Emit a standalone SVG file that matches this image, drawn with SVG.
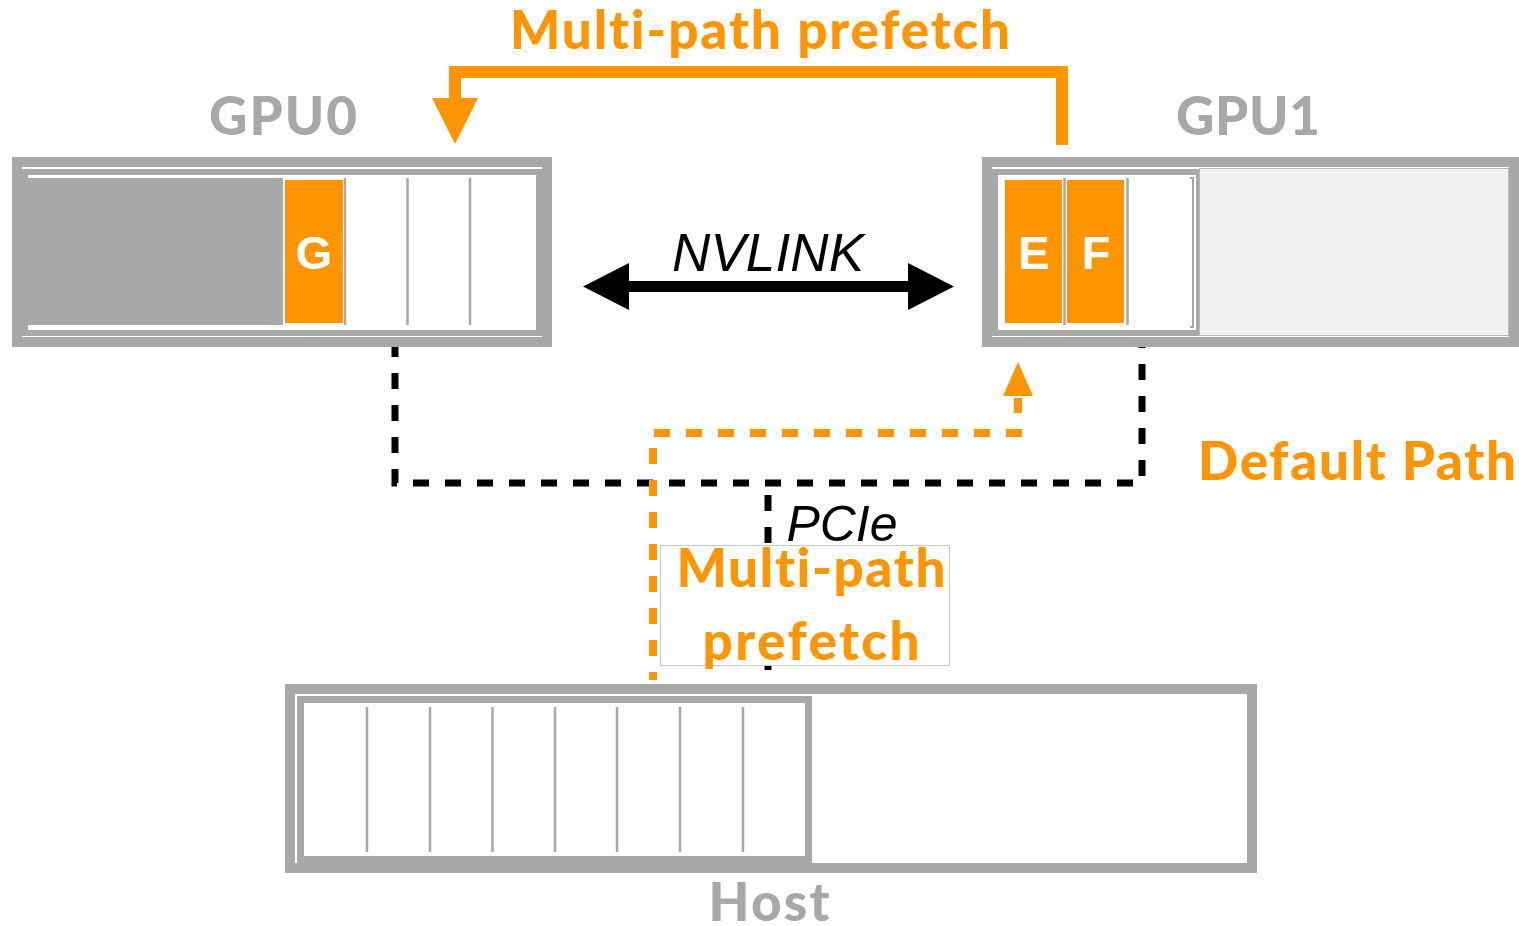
<svg xmlns="http://www.w3.org/2000/svg" width="1519" height="926" viewBox="0 0 1519 926">
  <style>
    .frame { fill: #ffffff; stroke: #a6a9a7; }
    .outer { stroke-width: 10; }
    .inner { stroke-width: 6; }
    .div { stroke: #a6a9a7; stroke-width: 2.5; }
    .cell { fill: #ff9500; }
    .blk { font-family: "Liberation Sans", Arial, sans-serif; font-weight: 700; font-size: 47px; fill: #ffffff; text-anchor: middle; }
    .lbl { font-family: Lato, "Open Sans", sans-serif; font-weight: 900; font-size: 53px; text-anchor: middle; font-variant-ligatures: none; }
    .gray { fill: #a6a9a7; }
    .orange { fill: #ff9500; }
    .dash-k { fill: none; stroke: #000000; stroke-width: 7; stroke-dasharray: 16 16; }
    .dash-o { fill: none; stroke: #ff9500; stroke-width: 8; stroke-dasharray: 16 16; }
  </style>

  <!-- links between devices -->
  <g id="connectors">
    <!-- PCIe bus: GPU0 and GPU1 down to the host -->
    <path class="dash-k" d="M395,341 V483 H1142 V345"/>
    <path class="dash-k" d="M768,495 V670"/>
    <!-- host to GPU1 prefetch path -->
    <path class="dash-o" d="M653,680 V433 H1018 V398" stroke-dashoffset="8"/>
    <polygon fill="#ff9500" points="1003,396 1033,396 1018,362"/>
    <!-- GPU1 to GPU0 prefetch over NVLink -->
    <path d="M1062,145 V72 H455 V100" fill="none" stroke="#ff9500" stroke-width="12"/>
    <polygon fill="#ff9500" points="432,98 478,98 455,144"/>
    <!-- NVLink double arrow -->
    <line x1="622" y1="286.5" x2="914" y2="286.5" stroke="#000000" stroke-width="11"/>
    <polygon fill="#000000" points="583,286.5 629,263 629,310"/>
    <polygon fill="#000000" points="954,286.5 908,263 908,310"/>
  </g>

  <!-- GPU0 memory -->
  <g id="gpu0">
    <rect class="frame outer" x="17" y="162" width="530" height="180"/>
    <rect class="frame inner" x="25" y="172" width="514" height="161"/>
    <rect x="28" y="178" width="255" height="147" fill="#a6a9a7"/>
    <rect class="cell" x="285" y="180" width="58" height="143"/>
    <line class="div" x1="345" y1="178" x2="345" y2="325"/>
    <line class="div" x1="407.5" y1="178" x2="407.5" y2="325"/>
    <line class="div" x1="470" y1="178" x2="470" y2="325"/>
    <text class="blk" x="314" y="269">G</text>
  </g>

  <!-- GPU1 memory -->
  <g id="gpu1">
    <rect class="frame outer" x="987" y="162" width="527" height="180"/>
    <rect class="frame inner" x="995" y="172" width="512" height="161"/>
    <rect x="1196" y="172" width="5" height="161" fill="#a6a9a7"/>
    <rect x="1199.5" y="168.5" width="309" height="167" fill="#f1f1f1" stroke="#b8bbb9" stroke-width="1"/>
    <rect class="cell" x="1005" y="180" width="57" height="143"/>
    <rect class="cell" x="1067" y="180" width="57" height="143"/>
    <line class="div" x1="1064.5" y1="178" x2="1064.5" y2="325"/>
    <line class="div" x1="1127.5" y1="178" x2="1127.5" y2="325"/>
    <path d="M1190,178 H1193 V327 H1190" fill="none" stroke="#a6a9a7" stroke-width="2"/>
    <text class="blk" x="1034" y="269">E</text>
    <text class="blk" x="1096" y="269">F</text>
  </g>

  <!-- Host memory -->
  <g id="host">
    <rect class="frame outer" x="290" y="689" width="962" height="179"/>
    <rect class="frame" x="300.5" y="699.5" width="508" height="160" stroke-width="7"/>
    <line class="div" x1="367" y1="707" x2="367" y2="852"/>
    <line class="div" x1="430" y1="707" x2="430" y2="852"/>
    <line class="div" x1="492.5" y1="707" x2="492.5" y2="852"/>
    <line class="div" x1="555" y1="707" x2="555" y2="852"/>
    <line class="div" x1="617" y1="707" x2="617" y2="852"/>
    <line class="div" x1="680" y1="707" x2="680" y2="852"/>
    <line class="div" x1="743" y1="707" x2="743" y2="852"/>
  </g>

  <!-- labels -->
  <g id="labels">
    <text class="lbl gray" x="283" y="135" textLength="148">GPU0</text>
    <text class="lbl gray" x="1248" y="135" textLength="144">GPU1</text>
    <text class="lbl gray" x="769" y="921" textLength="121">Host</text>
    <text class="lbl orange" x="760" y="49" textLength="500">Multi-path prefetch</text>
    <text class="lbl orange" x="1357" y="480" textLength="318">Default Path</text>
    <text x="768" y="271" font-family="'Liberation Sans', Arial, sans-serif" font-style="italic" font-size="53" text-anchor="middle" textLength="192">NVLINK</text>
    <text x="842" y="541" font-family="'Liberation Sans', Arial, sans-serif" font-style="italic" font-size="50" text-anchor="middle">PCIe</text>
  </g>

  <!-- boxed prefetch label over the PCIe link -->
  <g id="prefetch-note">
    <rect x="660.5" y="545.5" width="289" height="120" fill="#ffffff" stroke="#c8c8c8" stroke-width="1"/>
    <text class="lbl orange" x="811" y="587" textLength="269">Multi-path</text>
    <text class="lbl orange" x="811" y="660" textLength="217">prefetch</text>
  </g>
</svg>
